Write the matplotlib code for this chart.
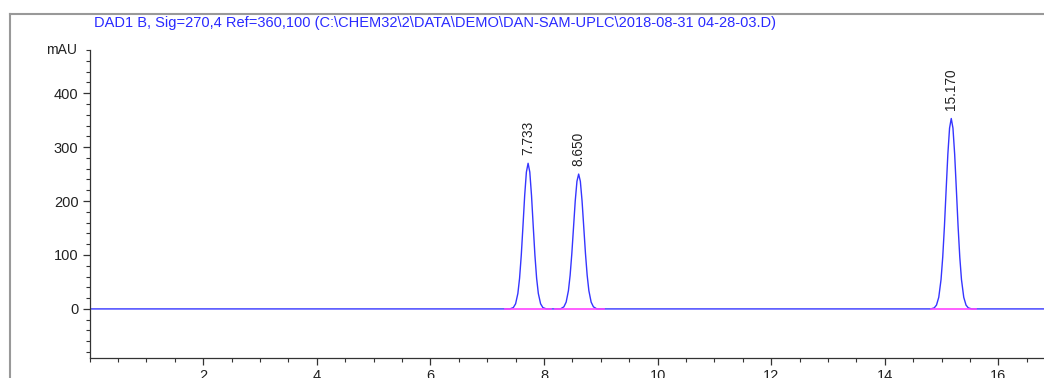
import matplotlib
import matplotlib.pyplot as plt
from matplotlib.lines import Line2D
from matplotlib.ticker import MultipleLocator

matplotlib.rcParams['font.family'] = ['Liberation Sans', 'DejaVu Sans']
matplotlib.rcParams['xtick.direction'] = 'out'
matplotlib.rcParams['ytick.direction'] = 'out'

title = r"DAD1 B, Sig=270,4 Ref=360,100 (C:\CHEM32\2\DATA\DEMO\DAN-SAM-UPLC\2018-08-31 04-28-03.D)"

# signal (min, mAU)
trace_time = [0.0,
              7.40, 7.46, 7.50, 7.54, 7.57, 7.60, 7.63, 7.66, 7.69, 7.72,
              7.75, 7.78, 7.81, 7.84, 7.87, 7.90, 7.94, 7.98, 8.04,
              8.29, 8.35, 8.39, 8.43, 8.46, 8.49, 8.52, 8.55, 8.58, 8.61,
              8.64, 8.67, 8.70, 8.73, 8.76, 8.79, 8.83, 8.87, 8.93,
              14.81, 14.87, 14.91, 14.95, 14.99, 15.02, 15.05, 15.08, 15.11, 15.14, 15.17,
              15.20, 15.23, 15.26, 15.29, 15.32, 15.35, 15.39, 15.43, 15.47, 15.53,
              17.2]
trace_mau = [0.0,
             0.0, 2.5, 9.5, 28.7, 56.9, 99.7, 154.1, 210.5, 253.7, 270.0,
             253.7, 210.5, 154.1, 99.7, 56.9, 28.7, 9.5, 2.5, 0.0,
             0.0, 3.9, 12.6, 33.8, 62.4, 102.8, 151.6, 200.2, 236.5, 250.0,
             236.5, 200.2, 151.6, 102.8, 62.4, 33.8, 12.6, 3.9, 0.0,
             0.0, 1.9, 7.1, 21.5, 54.3, 96.2, 153.6, 221.0, 286.7, 335.1, 353.0,
             335.1, 286.7, 221.0, 153.6, 96.2, 54.3, 21.5, 7.1, 1.9, 0.0,
             0.0]

# peaks: apex position, apex height, retention time label
peak_time = [7.72, 8.61, 15.17]
peak_height = [270.0, 250.0, 353.0]
peak_label = ["7.733", "8.650", "15.170"]

# integration baselines
base_start = [7.31, 8.19, 14.81]
base_end = [8.13, 9.06, 15.60]

W, H = 1044, 378
fig = plt.figure(figsize=(W / 100, H / 100), dpi=100)

# axes run past the right edge, like the cropped report
x0, y0 = 89.6, 358.0
px_per_min = 56.8
xmax = 17.2
ax = fig.add_axes([x0 / W, (H - y0) / H, xmax * px_per_min / W, (y0 - 50.0) / H])

ax.plot(trace_time, trace_mau, color='#3535ff', lw=1.0, zorder=2)
for s, e in zip(base_start, base_end):
    ax.plot([s, e], [0, 0], color='#ff44ff', lw=1.2, zorder=3)

for t, h, lab in zip(peak_time, peak_height, peak_label):
    ax.annotate(lab, xy=(t, h), xytext=(0, 6), textcoords='offset points',
                rotation=90, ha='center', va='bottom', fontsize=9.8, color='#222222')

ax.set_xlim(0, xmax)
ax.set_ylim(-91, 480)
ax.xaxis.set_minor_locator(MultipleLocator(0.5))
ax.yaxis.set_minor_locator(MultipleLocator(20))
ax.set_xticks([2, 4, 6, 8, 10, 12, 14, 16])
ax.set_yticks([0, 100, 200, 300, 400])
ax.tick_params(which='major', length=5, width=0.9, color='#333333', labelsize=10.5,
               pad=3, labelcolor='#222222')
ax.tick_params(which='minor', length=2.7, width=0.8, color='#333333')
for side in ['top', 'right']:
    ax.spines[side].set_visible(False)
for side in ['left', 'bottom']:
    ax.spines[side].set_color('#333333')
    ax.spines[side].set_linewidth(0.9)

ax.annotate('mAU', xy=(0, 480), xycoords=('axes fraction', 'data'),
            xytext=(-9, 0), textcoords='offset points', ha='right', va='center',
            fontsize=10, color='#222222')
ax.annotate('min', xy=(17.0, -91), xycoords='data', xytext=(0, -14),
            textcoords='offset points', ha='center', va='center', fontsize=10.5,
            annotation_clip=False)

# report frame
fig.add_artist(Line2D([9.5 / W, 9.5 / W], [0, 1 - 14.3 / H], transform=fig.transFigure,
                      color='#999999', lw=1.5))
fig.add_artist(Line2D([9.5 / W, 1], [1 - 14.3 / H, 1 - 14.3 / H], transform=fig.transFigure,
                      color='#999999', lw=1.5))

fig.text(93.5 / W, 1 - 22.5 / H, title, color='#2a2aff', fontsize=10.5,
         ha='left', va='center')

fig.savefig('out.png', dpi=100)
